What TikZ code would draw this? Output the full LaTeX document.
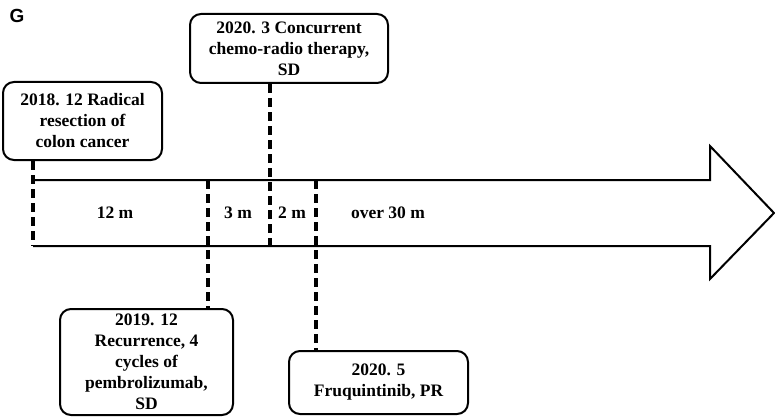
\documentclass[tikz,border=0pt]{standalone}
\usepackage{fontspec}
\setmainfont{Liberation Serif}
\newfontfamily\labelfont{Liberation Sans}
\usetikzlibrary{positioning,calc}
\tikzstyle{event}=[draw, rounded corners=11pt, line width=2pt,
                   align=center, inner sep=2pt,
                   font=\fontsize{17.5}{21}\selectfont\bfseries]
\tikzstyle{tick}  =[line width=3.2pt, dash pattern=on 9pt off 5pt]
\tikzstyle{span}  =[font=\fontsize{17.5}{21}\selectfont\bfseries]

\begin{document}
\begin{tikzpicture}[x=1pt,y=-1pt]
    \useasboundingbox (0,0) rectangle (775,417);

    % timeline arrow
    \draw [line width=2pt, line join=miter]
        (33,180) -- (710,180) -- (710,146) -- (774,213) -- (710,279)
        -- (710,246) -- (33,246);

    \node [font=\fontsize{19}{20}\labelfont\bfseries] (g) at (17,16) {G};

    % events
    \node (e1) [event, minimum width=159pt, minimum height=78pt]
        at (82.5,121) {2018. 12 Radical\\resection of\\colon cancer};
    \node (e2) [event, minimum width=198pt, minimum height=69pt]
        at (289,48.5) {2020. 3 Concurrent\\chemo-radio therapy,\\SD};
    \node (e3) [event, minimum width=173pt, minimum height=106pt]
        at (146.5,362) {2019. 12\\Recurrence, 4\\cycles of\\pembrolizumab,\\SD};
    \node (e4) [event, minimum width=179pt, minimum height=63pt]
        at (378.5,382.5) {2020. 5\\Fruquintinib, PR};

    % points on the arrow
    \coordinate (t1) at (33,246);
    \coordinate (t2) at (208,180);
    \coordinate (t3) at (270,246);
    \coordinate (t4) at (316,180);

    \draw [tick] (t1 |- e1.south) -- (t1);
    \draw [tick] (t2) -- (t2 |- e3.north);
    \draw [tick] (t3 |- e2.south) -- (t3);
    \draw [tick] (t4) -- (t4 |- e4.north);

    % durations
    \foreach \x/\n/\t in {115/s1/12 m, 238/s2/3 m, 292/s3/2 m, 388/s4/over 30 m}
        \node (\n) [span] at (\x,213) {\t};

\end{tikzpicture}
\end{document}
